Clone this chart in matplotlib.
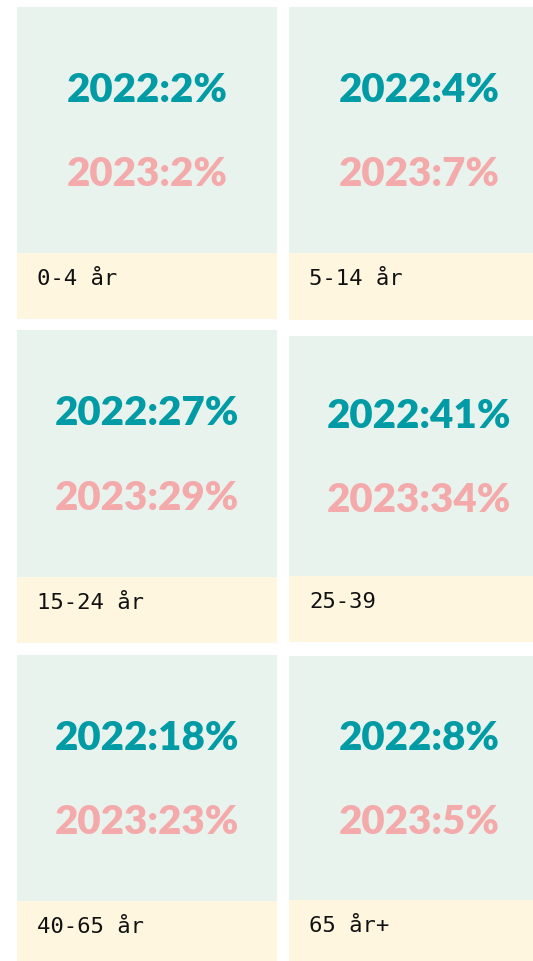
import matplotlib
matplotlib.use('Agg')
import matplotlib.pyplot as plt
from matplotlib.patches import Rectangle

# age groups and shares per year
groups = ['0-4 år', '5-14 år', '15-24 år', '25-39', '40-65 år', '65 år+']
share_2022 = [2, 4, 27, 41, 18, 8]
share_2023 = [2, 7, 29, 34, 23, 5]

GREEN = '#e8f3ee'
YELLOW = '#fef6df'
TEAL = '#009ba4'
PINK = '#f4aaaa'

# card layout in pixels: (left, top, green height, yellow height)
cards = [
    (17, 7, 246, 66), (289, 7, 246, 67),
    (17, 330, 247, 66), (289, 336, 240, 66),
    (17, 655, 246, 66), (289, 656, 244, 66),
]
card_w = 260


def main():
    fig = plt.figure(figsize=(5.33, 9.61), dpi=100)
    ax = fig.add_axes([0, 0, 1, 1])
    ax.set_xlim(0, 533)
    ax.set_ylim(961, 0)
    ax.axis('off')

    for i, (x, y, gh, yh) in enumerate(cards):
        ax.add_patch(Rectangle((x, y), card_w, gh, facecolor=GREEN, edgecolor='none'))
        ax.add_patch(Rectangle((x, y + gh), card_w, yh, facecolor=YELLOW, edgecolor='none'))
        cx = x + card_w / 2
        cy = y + gh / 2
        ax.text(cx, cy - 40, f'2022:{share_2022[i]}%', color=TEAL, fontsize=29,
                fontfamily='Lato', fontweight='heavy', ha='center', va='center')
        ax.text(cx, cy + 45, f'2023:{share_2023[i]}%', color=PINK, fontsize=29,
                fontfamily='Lato', fontweight='heavy', ha='center', va='center')
        ax.text(x + 20, y + gh + 26, groups[i], color='#111111', fontsize=16,
                fontfamily='DejaVu Sans Mono', ha='left', va='center')

    fig.savefig('out.png', dpi=100)


if __name__ == '__main__':
    main()
